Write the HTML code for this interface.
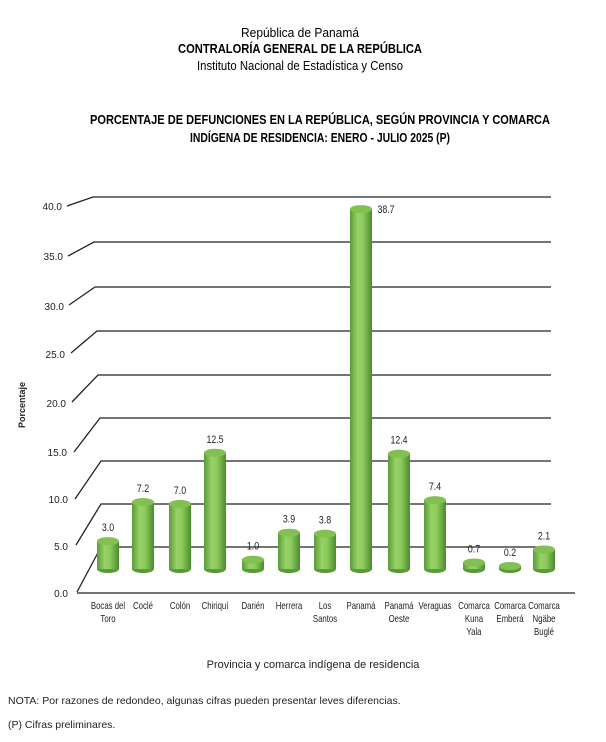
<!DOCTYPE html>
<html><head><meta charset="utf-8"><style>
body{margin:0;background:#fff;}
svg{display:block;font-family:"Liberation Sans",sans-serif;}
</style></head><body>
<svg width="606" height="742" viewBox="0 0 606 742">
<defs>
<linearGradient id="cyl" x1="0" x2="1" y1="0" y2="0">
<stop offset="0" stop-color="#5a9a38"/>
<stop offset="0.35" stop-color="#98d268"/>
<stop offset="0.6" stop-color="#8cca5c"/>
<stop offset="1" stop-color="#4c8a2e"/>
</linearGradient>
</defs>
<g fill="#000" text-anchor="middle" font-size="13">
<text x="300" y="37" textLength="118" lengthAdjust="spacingAndGlyphs">República de Panamá</text>
<text x="300" y="53" font-weight="bold" textLength="244" lengthAdjust="spacingAndGlyphs">CONTRALORÍA GENERAL DE LA REPÚBLICA</text>
<text x="300" y="70" textLength="206" lengthAdjust="spacingAndGlyphs">Instituto Nacional de Estadística y Censo</text>
<text x="320" y="124" font-weight="bold" textLength="460" lengthAdjust="spacingAndGlyphs">PORCENTAJE DE DEFUNCIONES EN LA REPÚBLICA, SEGÚN PROVINCIA Y COMARCA</text>
<text x="320" y="142" font-weight="bold" textLength="260" lengthAdjust="spacingAndGlyphs">INDÍGENA DE RESIDENCIA: ENERO - JULIO 2025 (P)</text>
</g>
<g stroke="#222" stroke-width="1.3" fill="none">
<polyline points="67,206 93,197 551,197"/>
<polyline points="68,256 94,242 551,242"/>
<polyline points="69,305 95,287 551,287"/>
<polyline points="71,353 97,331 551,331"/>
<polyline points="72,402 98,375 551,375"/>
<polyline points="74,452 100,418 551,418"/>
<polyline points="75,499 101,461 551,461"/>
<polyline points="76,545 101,504 551,504"/>
<polyline points="77,592 101,547 551,547"/>
<line x1="77" y1="593" x2="575" y2="593"/>
</g>
<g font-size="10" fill="#222" text-anchor="end">
<text x="62" y="210">40.0</text><text x="63" y="260">35.0</text><text x="64" y="310">30.0</text>
<text x="65" y="358">25.0</text><text x="66" y="407">20.0</text><text x="67" y="456">15.0</text>
<text x="68" y="503">10.0</text><text x="68" y="550">5.0</text><text x="68" y="597">0.0</text>
</g>
<text x="25" y="405" font-size="9" font-weight="bold" fill="#222" text-anchor="middle" transform="rotate(-90 25 405)">Porcentaje</text>
<g id="bars"></g>
<g font-size="10" fill="#222" text-anchor="middle" id="cats"></g>
<g font-size="11" fill="#222" text-anchor="middle" id="vals"></g>
<text x="313" y="668" font-size="11" text-anchor="middle" fill="#222">Provincia  y comarca indígena de residencia</text>
<text x="8" y="704" font-size="10.5" fill="#222">NOTA: Por razones de redondeo, algunas cifras pueden presentar leves diferencias.</text>
<text x="8" y="728" font-size="10.5" fill="#222">(P) Cifras preliminares.</text>
<script>
var d=[["Bocas del|Toro",108,3.0],["Coclé",143,7.2],["Colón",180,7.0],["Chiriquí",215,12.5],["Darién",253,1.0],["Herrera",289,3.9],["Los|Santos",325,3.8],["Panamá",361,38.7],["Panamá|Oeste",399,12.4],["Veraguas",435,7.4],["Comarca|Kuna|Yala",474,0.7],["Comarca|Emberá",510,0.2],["Comarca|Ngäbe|Buglé",544,2.1]];
var ns="http://www.w3.org/2000/svg";
function el(p,t,a,tx){var e=document.createElementNS(ns,t);for(var k in a)e.setAttribute(k,a[k]);if(tx)e.textContent=tx;document.getElementById(p).appendChild(e);}
var base=569,s=9.3,w=11;
d.forEach(function(r){var x=r[1],v=r[2];var top=base-Math.max(v*s,3);
el("bars","ellipse",{cx:x,cy:base,rx:w,ry:4,fill:"#5a9a38"});
el("bars","rect",{x:x-w,y:top,width:2*w,height:base-top,fill:"url(#cyl)"});
el("bars","ellipse",{cx:x,cy:top,rx:w,ry:4,fill:"#82c052"});
r[0].split("|").forEach(function(l,i){el("cats","text",{transform:"translate("+x+","+(609+i*13)+") scale(0.78,1)"},l);});
var tx=v>30?x+25:x, ty=v>30?top+4:top-10;
el("vals","text",{transform:"translate("+tx+","+ty+") scale(0.8,1)"},v.toFixed(1));
});
</script>
</svg>
</body></html>
